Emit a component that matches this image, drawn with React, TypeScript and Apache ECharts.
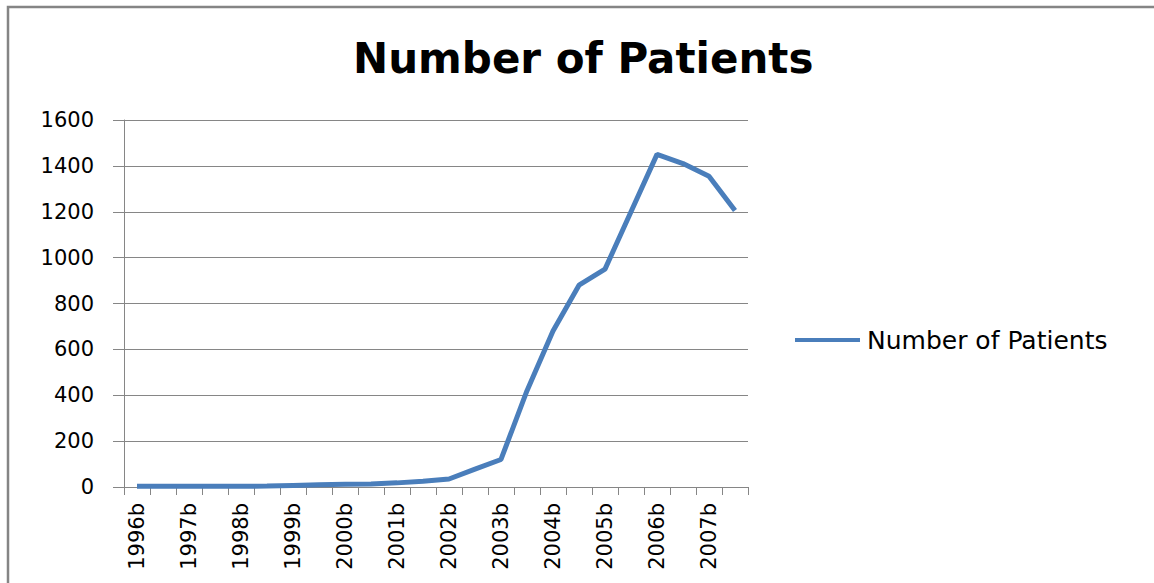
import React, { useEffect, useRef } from "react";
import * as echarts from "echarts";

const categories = [
  "1996b", "1997a", "1997b", "1998a", "1998b", "1999a", "1999b", "2000a",
  "2000b", "2001a", "2001b", "2002a", "2002b", "2003a", "2003b", "2004a",
  "2004b", "2005a", "2005b", "2006a", "2006b", "2007a", "2007b", "2008a",
];
const patients = [
  3, 3, 3, 3, 3, 4, 7, 10,
  12, 13, 18, 25, 35, 78, 120, 420,
  680, 880, 950, 1200, 1450, 1410, 1355, 1205,
];
const seriesName = "Number of Patients";
const titleText = "Number of Patients";
const yMin = 0;
const yMax = 1600;
const yStep = 200;

const FONT = "DejaVu Sans";
const GRAY = "#868686";

export default function App() {
  const ref = useRef<HTMLDivElement>(null);
  useEffect(() => {
    if (!ref.current) return;
    const chart = echarts.init(ref.current, null, { renderer: "svg" });
    chart.setOption({
      animation: false,
      backgroundColor: "#ffffff",
      title: {
        text: titleText,
        left: 353,
        top: 37,
        padding: 0,
        textStyle: { fontFamily: FONT, fontWeight: "bold", fontSize: 42, color: "#000" },
      },
      legend: {
        data: [seriesName],
        left: 795,
        top: 326,
        padding: 0,
        icon: "rect",
        itemWidth: 65,
        itemHeight: 4,
        itemGap: 7,
        textStyle: { fontFamily: FONT, fontSize: 25, color: "#000", lineHeight: 28, padding: [0, 0, 0, 2] },
      },
      grid: { left: 124, right: 406, top: 120, bottom: 96 },
      xAxis: {
        type: "category",
        data: categories,
        boundaryGap: true,
        axisLine: { show: true, lineStyle: { color: GRAY, width: 1 } },
        axisTick: { show: true, interval: 0, length: 8, lineStyle: { color: GRAY } },
        axisLabel: {
          interval: 1,
          rotate: 90,
          margin: 16,
          fontFamily: FONT,
          fontSize: 21,
          color: "#000",
        },
        splitLine: { show: false },
      },
      yAxis: {
        type: "value",
        min: yMin,
        max: yMax,
        interval: yStep,
        axisLine: { show: true, lineStyle: { color: GRAY, width: 1 } },
        axisTick: { show: true, length: 11, lineStyle: { color: GRAY } },
        axisLabel: {
          margin: 30,
          fontFamily: FONT,
          fontSize: 21,
          color: "#000",
          formatter: (v: number) => String(v),
        },
        splitLine: { show: true, lineStyle: { color: GRAY, width: 1 } },
      },
      series: [
        {
          name: seriesName,
          type: "line",
          data: patients,
          symbol: "none",
          showSymbol: false,
          lineStyle: { color: "#4A7EBB", width: 5 },
          itemStyle: { color: "#4A7EBB" },
        },
      ],
      graphic: [
        {
          type: "rect",
          silent: true,
          z: -1,
          shape: { x: 8, y: 7, width: 1300, height: 700 },
          style: { fill: "none", stroke: "#858585", lineWidth: 2.5 },
        },
      ],
    });
    return () => chart.dispose();
  }, []);
  return (
    <div
      ref={ref}
      style={{ position: "fixed", left: 0, top: 0, width: 1154, height: 583, background: "#fff" }}
    />
  );
}
